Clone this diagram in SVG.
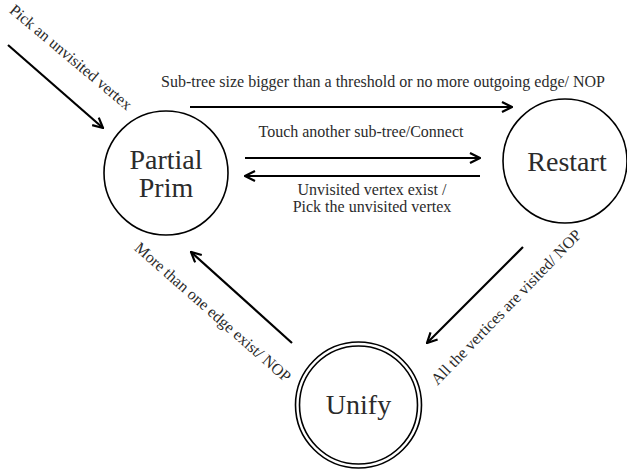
<svg xmlns="http://www.w3.org/2000/svg" width="627" height="469" viewBox="0 0 627 469">
<style>
.node{fill:none;stroke:#000;stroke-width:1.6}
.edge{fill:none;stroke:#000;stroke-width:2.2}
.lbl{font-family:"Liberation Serif","DejaVu Serif",serif;font-size:16px;fill:#2b2b2b}
.big{font-family:"Liberation Serif","DejaVu Serif",serif;font-size:28px;fill:#2b2b2b;text-anchor:middle}
</style>
<defs>
<marker id="ah" viewBox="0 0 12 12" refX="11" refY="6" markerWidth="12" markerHeight="12" markerUnits="userSpaceOnUse" orient="auto">
<path d="M1,1 L11,6 L1,11" fill="none" stroke="#000" stroke-width="2.2"/>
</marker>
</defs>
<g id="node-partial-prim">
<circle class="node" cx="166" cy="173" r="62"/>
<text class="big" x="166" y="169">Partial</text>
<text class="big" x="166" y="197">Prim</text>
</g>
<g id="node-restart">
<circle class="node" cx="565" cy="161" r="62"/>
<text class="big" x="567" y="171">Restart</text>
</g>
<g id="node-unify">
<circle class="node" cx="358.5" cy="405" r="63"/>
<circle class="node" cx="358.5" cy="405" r="59"/>
<text class="big" x="358.5" y="414">Unify</text>
</g>
<g id="connectors">
<line class="edge" x1="8" y1="45" x2="103" y2="128" marker-end="url(#ah)"/>
<line class="edge" x1="190" y1="107" x2="512" y2="107" marker-end="url(#ah)"/>
<line class="edge" x1="245" y1="158" x2="480" y2="158" marker-end="url(#ah)"/>
<line class="edge" x1="480" y1="176" x2="245" y2="176" marker-end="url(#ah)"/>
<line class="edge" x1="523" y1="247" x2="427" y2="343" marker-end="url(#ah)"/>
<line class="edge" x1="292" y1="343" x2="191" y2="252" marker-end="url(#ah)"/>
</g>
<g id="labels">
<text class="lbl" x="383" y="87" text-anchor="middle">Sub-tree size bigger than a threshold or no more outgoing edge/ NOP</text>
<text class="lbl" x="361" y="137" text-anchor="middle">Touch another sub-tree/Connect</text>
<text class="lbl" x="372" y="195" text-anchor="middle">Unvisited vertex exist /</text>
<text class="lbl" x="372" y="212" text-anchor="middle">Pick the unvisited vertex</text>
<text class="lbl" text-anchor="middle" dominant-baseline="central" transform="translate(71,57) rotate(40)">Pick an unvisited vertex</text>
<text class="lbl" text-anchor="middle" dominant-baseline="central" transform="translate(213,312) rotate(41.4)">More than one edge exist/ NOP</text>
<text class="lbl" text-anchor="middle" dominant-baseline="central" transform="translate(506,307) rotate(-46)">All the vertices are visited/ NOP</text>
</g>
</svg>
